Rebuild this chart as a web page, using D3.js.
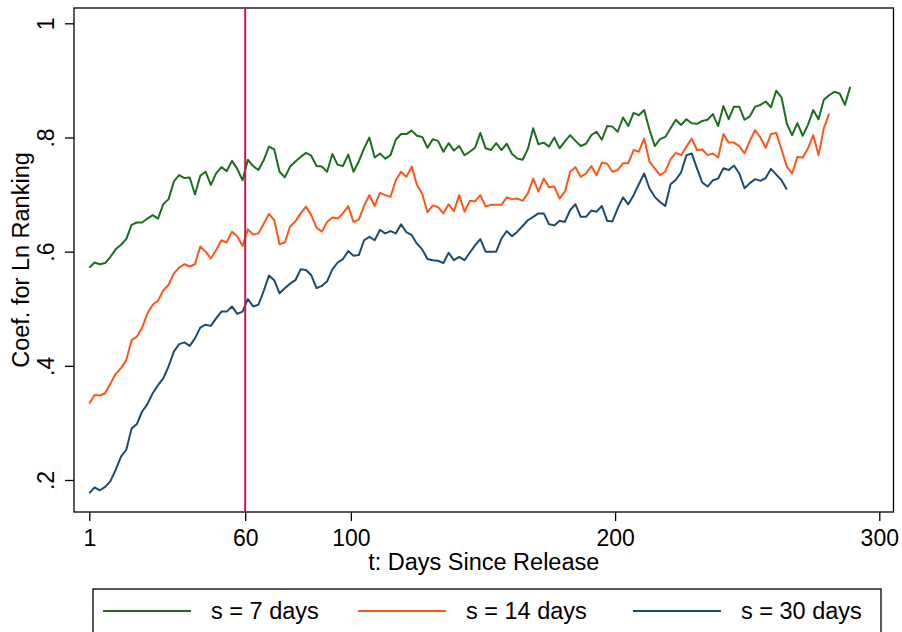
<!DOCTYPE html>
<html>
<head>
<meta charset="utf-8">
<script src="https://cdn.jsdelivr.net/npm/d3@7"></script>
<style>
body { margin: 0; background: #fff; }
text { font-family: "Liberation Sans", Arial, Helvetica, sans-serif; }
</style>
</head>
<body>
<div class="chart"></div>
<script>
// coefficients every other day, starting at day 1
const dayStep = 2;
const seriesNames = ["s = 7 days", "s = 14 days", "s = 30 days"];

const s7 = [
    0.572, 0.581, 0.578, 0.580, 0.591, 0.604, 0.612, 0.622, 0.647, 0.651,
    0.651, 0.658, 0.664, 0.658, 0.683, 0.692, 0.723, 0.734, 0.729, 0.730,
    0.700, 0.733, 0.740, 0.717, 0.737, 0.748, 0.741, 0.759, 0.745, 0.725,
    0.761, 0.750, 0.743, 0.760, 0.784, 0.779, 0.740, 0.730, 0.749, 0.758,
    0.766, 0.773, 0.768, 0.750, 0.749, 0.740, 0.771, 0.752, 0.750, 0.770,
    0.740, 0.758, 0.781, 0.800, 0.765, 0.772, 0.763, 0.769, 0.796, 0.806,
    0.806, 0.812, 0.803, 0.801, 0.782, 0.797, 0.794, 0.775, 0.790, 0.777,
    0.785, 0.769, 0.775, 0.782, 0.808, 0.781, 0.778, 0.790, 0.778, 0.789,
    0.771, 0.763, 0.761, 0.780, 0.816, 0.788, 0.791, 0.784, 0.800, 0.781,
    0.793, 0.804, 0.794, 0.785, 0.789, 0.804, 0.810, 0.796, 0.820, 0.819,
    0.810, 0.835, 0.820, 0.843, 0.839, 0.848, 0.814, 0.785, 0.797, 0.801,
    0.816, 0.831, 0.822, 0.832, 0.825, 0.824, 0.829, 0.831, 0.841, 0.820,
    0.855, 0.832, 0.854, 0.854, 0.831, 0.837, 0.854, 0.857, 0.863, 0.853,
    0.882, 0.870, 0.824, 0.804, 0.825, 0.803, 0.822, 0.848, 0.832, 0.866,
    0.874, 0.880, 0.877, 0.857, 0.889
];

const s14 = [
    0.334, 0.349, 0.348, 0.352, 0.369, 0.386, 0.396, 0.410, 0.445, 0.451,
    0.467, 0.492, 0.507, 0.514, 0.532, 0.542, 0.562, 0.572, 0.578, 0.574,
    0.578, 0.609, 0.600, 0.588, 0.603, 0.620, 0.616, 0.635, 0.627, 0.610,
    0.639, 0.630, 0.632, 0.649, 0.666, 0.655, 0.613, 0.616, 0.644, 0.653,
    0.667, 0.679, 0.664, 0.642, 0.635, 0.652, 0.660, 0.658, 0.667, 0.680,
    0.652, 0.656, 0.680, 0.699, 0.680, 0.703, 0.699, 0.696, 0.725, 0.740,
    0.731, 0.749, 0.717, 0.701, 0.669, 0.681, 0.678, 0.667, 0.683, 0.671,
    0.699, 0.670, 0.689, 0.688, 0.699, 0.679, 0.682, 0.682, 0.682, 0.695,
    0.692, 0.693, 0.689, 0.702, 0.728, 0.705, 0.728, 0.713, 0.714, 0.693,
    0.705, 0.740, 0.748, 0.731, 0.737, 0.750, 0.734, 0.756, 0.754, 0.740,
    0.743, 0.755, 0.755, 0.778, 0.775, 0.798, 0.758, 0.746, 0.734, 0.740,
    0.762, 0.773, 0.769, 0.784, 0.798, 0.778, 0.779, 0.769, 0.772, 0.765,
    0.806, 0.791, 0.791, 0.785, 0.772, 0.794, 0.813, 0.800, 0.782, 0.806,
    0.808, 0.779, 0.749, 0.737, 0.766, 0.765, 0.781, 0.804, 0.769, 0.816,
    0.842
];

const s30 = [
    0.177, 0.187, 0.182, 0.188, 0.198, 0.218, 0.241, 0.253, 0.290, 0.298,
    0.320, 0.333, 0.352, 0.366, 0.378, 0.399, 0.425, 0.438, 0.441, 0.435,
    0.448, 0.467, 0.472, 0.470, 0.483, 0.495, 0.495, 0.504, 0.491, 0.495,
    0.517, 0.504, 0.507, 0.531, 0.558, 0.550, 0.527, 0.536, 0.544, 0.550,
    0.569, 0.568, 0.559, 0.536, 0.540, 0.548, 0.569, 0.581, 0.587, 0.601,
    0.593, 0.594, 0.620, 0.626, 0.620, 0.638, 0.632, 0.636, 0.632, 0.648,
    0.634, 0.629, 0.614, 0.604, 0.587, 0.585, 0.584, 0.580, 0.598, 0.585,
    0.591, 0.585, 0.598, 0.611, 0.622, 0.600, 0.600, 0.600, 0.623, 0.636,
    0.627, 0.635, 0.645, 0.655, 0.661, 0.667, 0.667, 0.648, 0.646, 0.654,
    0.652, 0.673, 0.683, 0.661, 0.661, 0.672, 0.670, 0.680, 0.654, 0.653,
    0.676, 0.695, 0.683, 0.699, 0.718, 0.737, 0.711, 0.696, 0.687, 0.680,
    0.718, 0.726, 0.739, 0.769, 0.772, 0.746, 0.721, 0.714, 0.725, 0.728,
    0.746, 0.743, 0.751, 0.737, 0.711, 0.720, 0.727, 0.724, 0.729, 0.745,
    0.735, 0.725, 0.709
];

const xTicks = [1, 60, 100, 200, 300];
const yTicks = [0.2, 0.4, 0.6, 0.8, 1];
const yTickLabels = [".2", ".4", ".6", ".8", "1"];
const markerDay = 60;
const colors = ["#1b6e1f", "#fc5719", "#1d4a72"];

// layout
var width = 902, height = 632;
var frame = {left: 74, top: 8, right: 893.5, bottom: 512};
var fontSize = 23.5;

var svg = d3.select(".chart").append("svg")
    .attr("width", width)
    .attr("height", height);

const xScale = d3.scaleLinear()
    .domain([1, 300])
    .range([89.3, 879.3]);

const yScale = d3.scaleLinear()
    .domain([0.2, 1])
    .range([480, 23.3]);

// plot frame
svg.append("rect")
    .attr("x", frame.left)
    .attr("y", frame.top)
    .attr("width", frame.right - frame.left)
    .attr("height", frame.bottom - frame.top)
    .attr("fill", "none")
    .attr("stroke", "#000")
    .attr("stroke-width", 1.3);

const xAxis = d3.axisBottom(xScale)
    .tickValues(xTicks)
    .tickFormat(d3.format("d"))
    .tickSize(9);

svg.append("g")
    .attr("class", "axis x-axis")
    .attr("transform", `translate(0, ${frame.bottom})`)
    .call(xAxis);

const yAxis = d3.axisLeft(yScale)
    .tickValues(yTicks)
    .tickFormat((d, i) => yTickLabels[i])
    .tickSize(9);

svg.append("g")
    .attr("class", "axis y-axis")
    .attr("transform", `translate(${frame.left}, 0)`)
    .call(yAxis);

svg.selectAll(".axis .domain").remove();
svg.selectAll(".axis line")
    .attr("stroke", "#000")
    .attr("stroke-width", 1.3);
svg.selectAll(".axis text")
    .attr("fill", "#000")
    .attr("font-size", 23)
    .attr("font-family", "Liberation Sans, Arial, sans-serif");

svg.selectAll(".x-axis text")
    .attr("dy", null)
    .attr("y", 33.5);

// y tick labels stand on their side, like stata does it
svg.selectAll(".y-axis text")
    .attr("dy", null)
    .attr("x", -20.5)
    .attr("y", 0)
    .attr("text-anchor", "middle")
    .attr("transform", "rotate(-90, -20.5, 0)");

// axis titles
svg.append("text")
    .attr("x", (frame.left + frame.right) / 2)
    .attr("y", 570)
    .attr("text-anchor", "middle")
    .attr("font-size", fontSize)
    .text("t: Days Since Release");

svg.append("text")
    .attr("transform", `translate(28.5, ${(frame.top + frame.bottom) / 2}) rotate(-90)`)
    .attr("text-anchor", "middle")
    .attr("font-size", fontSize)
    .text("Coef. for Ln Ranking");

// series lines
var line = d3.line()
    .x((d, i) => xScale(1 + i * dayStep))
    .y(d => yScale(d));

var data = [s7, s14, s30];

svg.selectAll(".series")
    .data(data)
    .enter()
    .append("path")
    .attr("class", "series")
    .attr("fill", "none")
    .attr("stroke", (d, i) => colors[i])
    .attr("stroke-width", 2)
    .attr("stroke-linejoin", "round")
    .attr("d", line);

// vertical marker at day 60
svg.append("line")
    .attr("x1", xScale(markerDay))
    .attr("x2", xScale(markerDay))
    .attr("y1", frame.top)
    .attr("y2", frame.bottom)
    .attr("stroke", "#c8184a")
    .attr("stroke-width", 2);

// legend (box runs off the bottom of the image)
var legend = svg.append("g").attr("class", "legend");

legend.append("rect")
    .attr("x", 93)
    .attr("y", 589)
    .attr("width", 788)
    .attr("height", 70)
    .attr("fill", "none")
    .attr("stroke", "#000")
    .attr("stroke-width", 1.3);

var lineStarts = [103, 358, 633];

seriesNames.forEach(function(name, i) {
    legend.append("line")
        .attr("x1", lineStarts[i])
        .attr("x2", lineStarts[i] + 88)
        .attr("y1", 611)
        .attr("y2", 611)
        .attr("stroke", colors[i])
        .attr("stroke-width", 2);
    legend.append("text")
        .attr("x", lineStarts[i] + 108)
        .attr("y", 619)
        .attr("font-size", fontSize)
        .text(name);
});
</script>
</body>
</html>
